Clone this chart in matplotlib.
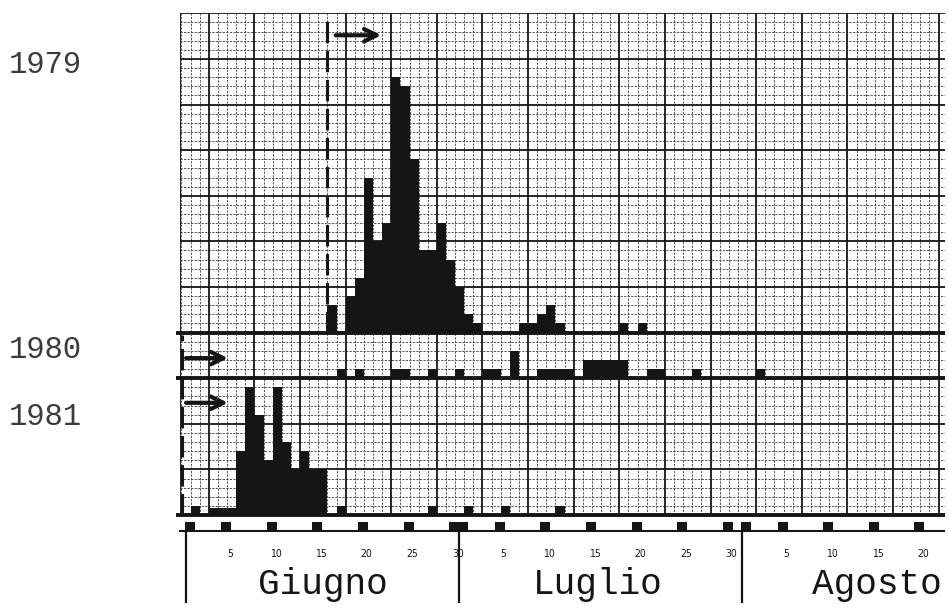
import matplotlib
matplotlib.use("Agg")
import matplotlib.pyplot as plt
from matplotlib.patches import Rectangle

# ── data: bar heights in graph-paper cells ──────────────────────────────────
# x = day of the season (1 = 1 giugno, 31 = 1 luglio, 62 = 1 agosto)
days_1979 = [16, 18, 19, 20, 21, 22, 23, 24, 25, 26, 27, 28, 29, 30, 31, 32,
             37, 38, 39, 40, 41, 48, 50]
vals_1979 = [3, 4, 6, 17, 10, 12, 28, 27, 19, 9, 9, 12, 8, 5, 2, 1,
             1, 1, 2, 3, 1, 1, 1]

days_1980 = [17, 19, 23, 24, 27, 30, 33, 34, 36, 39, 40, 41, 42,
             44, 45, 46, 47, 48, 51, 52, 56, 63]
vals_1980 = [1, 1, 1, 1, 1, 1, 1, 1, 3, 1, 1, 1, 1,
             2, 2, 2, 2, 2, 1, 1, 1, 1]

days_1981 = [1, 3, 4, 5, 6, 7, 8, 9, 10, 11, 12, 13, 14, 15, 17, 27, 31, 35, 41]
vals_1981 = [1, 0.8, 0.8, 0.8, 7, 14, 11, 6, 14, 8, 5, 7, 5, 5, 1, 1, 1, 1, 1]

years = ["1979", "1980", "1981"]
months = ["Giugno", "Luglio", "Agosto"]
month_start = [1, 31, 62]          # season day of the 1st of each month
month_ticks = [[5, 10, 15, 20, 25, 30],
               [5, 10, 15, 20, 25, 30],
               [5, 10, 15, 20]]
marked = [[1, 5, 10, 15, 20, 25, 30],
          [1, 5, 10, 15, 20, 25, 30],
          [1, 5, 10, 15, 20]]

# panel baselines (in grid cells from the bottom of the paper)
BASE = {"1979": 20, "1980": 15, "1981": 0}
TOP = 55
U0, U1 = -0.16, 83.7
INK = "#151515"

fig = plt.figure(figsize=(9.49, 6.10), dpi=100)
ax = fig.add_axes([180 / 949, 5 / 610, 765 / 949, 592 / 610])
ax.set_xlim(U0, U1)
ax.set_ylim(-9.87, 55.04)
ax.axis("off")

# ── graph paper ─────────────────────────────────────────────────────────────
for v in range(0, TOP + 1):
    if v % 5 == 0:
        ax.hlines(v, U0, U1, color=INK, lw=1.3, zorder=2)
    else:
        ax.hlines(v, U0, U1, color="#4a4a4a", lw=0.65, ls=(0, (2.5, 1.4)), zorder=1)
for u in range(0, 84):
    if (u - 3) % 5 == 0:
        ax.vlines(u, 0, TOP, color=INK, lw=1.3, zorder=2)
    else:
        ax.vlines(u, 0, TOP, color="#4a4a4a", lw=0.65, ls=(0, (2.5, 1.4)), zorder=1)
ax.vlines(U0, 0, TOP, color=INK, lw=1.3, zorder=2)

# thick baselines of the three panels
for y in years:
    ax.hlines(BASE[y], -0.6, U1, color=INK, lw=2.8, zorder=4, clip_on=False)

# ── bars ────────────────────────────────────────────────────────────────────
for y, d, h in [("1979", days_1979, vals_1979),
                ("1980", days_1980, vals_1980),
                ("1981", days_1981, vals_1981)]:
    ax.bar(d, h, width=1, bottom=BASE[y], align="edge", color=INK, lw=0, zorder=3)

# start markers: dashed lines and arrows
ax.vlines(16, 20, 54.5, color=INK, lw=2.2, ls=(0, (7, 2.5)), zorder=4)
ax.vlines(0.05, 0, 19.7, color=INK, lw=2.2, ls=(0, (7, 2.5)), zorder=4)
arrow = dict(arrowstyle="->,head_length=0.9,head_width=0.45", lw=3, color=INK)
ax.annotate("", xy=(22.2, 52.6), xytext=(16.6, 52.6), arrowprops=arrow, zorder=5)
ax.annotate("", xy=(5.4, 17.2), xytext=(0.2, 17.2), arrowprops=arrow, zorder=5)
ax.annotate("", xy=(5.4, 12.3), xytext=(0.2, 12.3), arrowprops=arrow, zorder=5)

# ── date axis below the paper ───────────────────────────────────────────────
ax.hlines(-1.75, -0.3, U1, color=INK, lw=1.5, clip_on=False)
for start, marks in zip(month_start, marked):
    for d in marks:
        u = start - 1 + d - 0.1
        ax.add_patch(Rectangle((u - 0.55, -1.75), 1.1, 0.95, color=INK,
                               lw=0, clip_on=False))
for sep in [0.45, 30.4, 61.4]:
    ax.vlines(sep, -9.6, -1.75, color=INK, lw=1.6, clip_on=False)
for start, ticks in zip(month_start, month_ticks):
    for d in ticks:
        ax.text(start - 1 + d + 0.3, -4.6, str(d), fontsize=7.5, ha="center",
                va="baseline", color=INK, family="DejaVu Sans", stretch="condensed")
for name, ux in zip(months, [15.5, 45.6, 76.2]):
    ax.text(ux, -8.7, name, fontsize=26, family="Liberation Mono", ha="center",
            va="baseline", color=INK)

# ── year labels at the left ─────────────────────────────────────────────────
for y, base_px in zip(years, [73, 358, 425]):
    fig.text(9 / 949, 1 - base_px / 610, y, fontsize=22, family="Liberation Mono",
             ha="left", va="baseline", color="#3a3a3a")

fig.savefig("out.png", dpi=100, facecolor="white")
